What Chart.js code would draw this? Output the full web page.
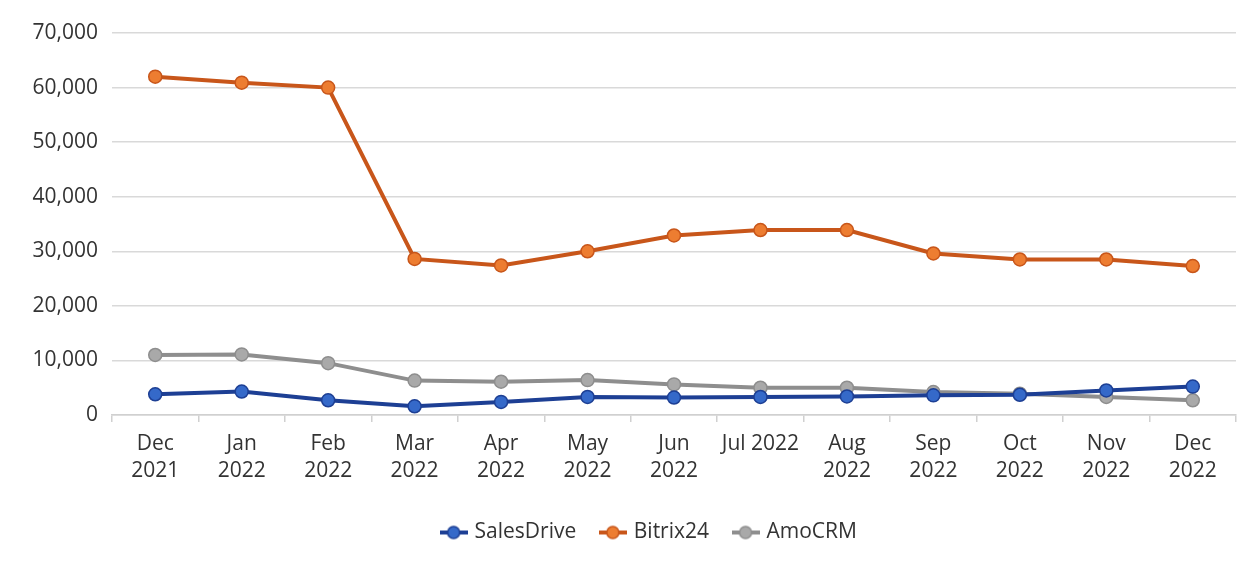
<!DOCTYPE html>
<html>
<head>
<meta charset="utf-8">
<script src="https://cdn.jsdelivr.net/npm/chart.js@4/dist/chart.umd.min.js"></script>
<style>
    html, body { margin: 0; padding: 0; background: #fff; }
    #wrap { width: 1258px; height: 568px; position: relative; }
</style>
</head>
<body>
<div id="wrap"><canvas id="myChart"></canvas></div>
<script>
const months = [['Dec', '2021'], ['Jan', '2022'], ['Feb', '2022'], ['Mar', '2022'], ['Apr', '2022'], ['May', '2022'],
    ['Jun', '2022'], 'Jul 2022', ['Aug', '2022'], ['Sep', '2022'], ['Oct', '2022'], ['Nov', '2022'], ['Dec', '2022']];

const salesDrive = [3800, 4300, 2700, 1600, 2400, 3300, 3200, 3300, 3400, 3600, 3700, 4500, 5200];
const bitrix24 = [62000, 60900, 60000, 28600, 27400, 30000, 32900, 33900, 33900, 29600, 28500, 28500, 27300];
const amoCRM = [11000, 11100, 9500, 6300, 6100, 6400, 5600, 5000, 5000, 4200, 3900, 3300, 2700];

const yTicks = [0, 10000, 20000, 30000, 40000, 50000, 60000, 70000];

const fontFamily = "'Open Sans', 'Liberation Sans', sans-serif";

// legend marker: short line with a dot in the middle, like in Excel
function legendIcon(line, fill) {
    const c = document.createElement('canvas');
    c.width = 28;
    c.height = 16;
    const g = c.getContext('2d');
    g.strokeStyle = line;
    g.lineWidth = 4;
    g.beginPath();
    g.moveTo(0, 8);
    g.lineTo(28, 8);
    g.stroke();
    g.fillStyle = fill;
    g.beginPath();
    g.arc(14, 8, 6, 0, Math.PI * 2);
    g.fill();
    g.lineWidth = 1.5;
    g.stroke();
    return c;
}

function series(label, data, line, fill) {
    return {
        label: label,
        data: data,
        borderColor: line,
        backgroundColor: fill,
        borderWidth: 4,
        pointRadius: 6.5,
        pointHoverRadius: 6.5,
        pointBackgroundColor: fill,
        pointBorderColor: line,
        pointBorderWidth: 1.5,
        tension: 0,
        icon: legendIcon(line, fill)
    };
}

// legend in the original sits a bit right of the canvas centre
const legendShift = {
    id: 'legendShift',
    afterLayout(chart) {
        if (chart.legend) {
            chart.legend.left += 27;
            chart.legend.right += 27;
        }
    }
};

const ctx = document.getElementById('myChart');

new Chart(ctx, {
    type: 'line',
    data: {
        labels: months,
        datasets: [
            series('SalesDrive', salesDrive, '#1d3f94', '#3569c9'),
            series('Bitrix24', bitrix24, '#c8561a', '#ed7d31'),
            series('AmoCRM', amoCRM, '#8e8e8e', '#a9a9a9')
        ]
    },
    plugins: [legendShift],
    options: {
        responsive: true,
        maintainAspectRatio: false,
        animation: false,
        layout: {
            padding: {left: 10, right: 22, top: 33, bottom: 15}
        },
        plugins: {
            tooltip: {enabled: false},
            legend: {
                position: 'bottom',
                labels: {
                    usePointStyle: true,
                    padding: 26,
                    color: '#333',
                    font: {family: fontFamily, size: 21},
                    generateLabels: (chart) => chart.data.datasets.map((ds, i) => ({
                        text: ds.label,
                        pointStyle: ds.icon,
                        fillStyle: ds.backgroundColor,
                        strokeStyle: ds.borderColor,
                        lineWidth: 0,
                        fontColor: '#333',
                        hidden: false,
                        datasetIndex: i
                    }))
                }
            }
        },
        scales: {
            x: {
                offset: true,
                border: {display: true, color: '#d0d0d0', width: 1.5},
                grid: {
                    offset: true,
                    drawOnChartArea: false,
                    drawTicks: true,
                    tickLength: 7,
                    color: '#d0d0d0',
                    lineWidth: 1.5
                },
                ticks: {
                    color: '#333',
                    padding: 8,
                    maxRotation: 0,
                    autoSkip: false,
                    font: {family: fontFamily, size: 21, lineHeight: 1.3}
                },
                afterFit: (scale) => { scale.height = 81; }
            },
            y: {
                min: 0,
                max: 70000,
                border: {display: false},
                grid: {color: '#d9d9d9', lineWidth: 1.5, drawTicks: false},
                afterBuildTicks: (scale) => { scale.ticks = yTicks.map(v => ({value: v})); },
                ticks: {
                    color: '#333',
                    padding: 14,
                    font: {family: fontFamily, size: 21},
                    callback: (v) => v.toLocaleString('en-US')
                },
                afterFit: (scale) => { scale.width = 102; }
            }
        }
    }
});
</script>
</body>
</html>
